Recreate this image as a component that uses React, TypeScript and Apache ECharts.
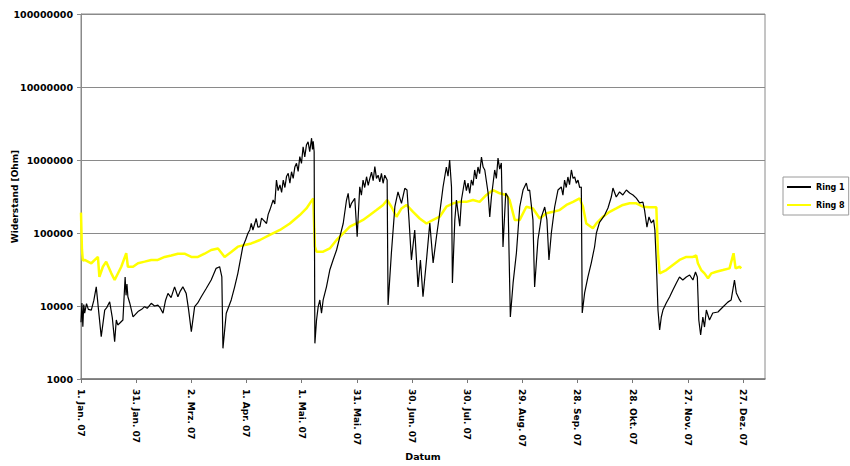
import React, { useEffect, useRef } from "react";
import * as echarts from "echarts";

const tickLabels = [
  "1. Jan. 07", "31. Jan. 07", "2. Mrz. 07", "1. Apr. 07", "1. Mai. 07", "31. Mai. 07",
  "30. Jun. 07", "30. Jul. 07", "29. Aug. 07", "28. Sep. 07", "28. Okt. 07", "27. Nov. 07", "27. Dez. 07",
];

// day offset from 1 Jan 2007
const ring1Days = [
  0, 0.5, 1, 1.5, 2, 3, 4, 5.6, 7, 8.3, 9.5, 11, 12.9, 14, 15.6, 17, 18.3, 19.2, 20, 21, 22.8, 24, 24.5, 25, 25.5, 26.5, 28.3,
  31, 33, 34.6, 36, 38.2, 40, 41.8, 43, 44.6, 46, 47.3, 49, 50.9, 52.7, 54, 55.4, 57.2, 58.5, 60, 61.8, 63.5, 65.4, 68.1,
  70.8, 73.5, 75.4, 76.6, 77.2, 79, 81.7, 83.5, 85.3, 88, 89.5, 90.8, 91.8, 92.6, 93.5, 95.3, 96.2, 97.3, 98.2, 99.1,
  100.9, 101.8, 102.7, 104.5, 105.4, 106.3, 107.2, 108.2, 109.1, 110, 110.9, 111.8, 112.7, 113.6, 114.5, 115.4, 116.3,
  117.2, 118.1, 119, 119.9, 120.8, 121.7, 122.6, 123.5, 124.4, 125.4, 125.9, 126.3, 126.8, 127.2, 128.1, 129, 129.9,
  130.8, 131.7, 133.5, 135.3, 137.1, 139, 140.8, 142.6, 144.4, 145.3, 146.2, 147.1, 148.9, 150.2, 151.6, 152.5, 153.4,
  154.3, 155.3, 156.2, 157.1, 158, 158.9, 159.8, 160.7, 161.6, 162.5, 163.4, 164.3, 165.2, 166.5, 167, 168.8, 170.7,
  172.4, 174.3, 176.1, 177.3, 178.4, 179.7, 181.5, 183.3, 184.6, 186, 187.9, 189.7, 191.5, 193.3, 195.1, 196.9, 198.7,
  199.6, 200.5, 201.5, 202, 203.3, 204.2, 206, 206.9, 208.7, 209.6, 210.5, 211.4, 212.3, 213.2, 214.1, 215, 215.9,
  216.8, 217.8, 218.7, 219.6, 221.4, 222.3, 223.2, 225, 225.9, 226.8, 227.7, 228.6, 229.5, 231, 232.2, 233.5, 235,
  236.8, 238.6, 240.4, 242.2, 243.1, 244, 245.8, 246.7, 248.5, 250.4, 252.2, 253.4, 254.5, 255.8, 257.6, 259.4, 261.2,
  262.1, 263, 263.9, 264.8, 265.7, 266.7, 267.6, 268.5, 269.4, 270.3, 271.2, 272.1, 272.6, 273.9, 275.7, 277.5, 279.3,
  280.3, 282, 284.8, 286.6, 288.4, 289.3, 291.1, 292.9, 294.7, 296.6, 298.4, 300.2, 302, 303.8, 305.6, 306.5, 307.8,
  308.9, 310.2, 311.4, 312.1, 312.9, 313.8, 314.7, 315.6, 316.5, 318.3, 320.1, 321.9, 323.8, 325.5, 327.3, 329.2, 331,
  332.8, 334.2, 335.2, 336, 337, 338.2, 339.1, 340.1, 341.8, 343.6, 346.4, 349.1, 351.8, 353.6, 355.4, 356.4, 358.2, 359.1,
];
const ring1Ohm = [
  6000, 11000, 5200, 10500, 8000, 10800, 9000, 8800, 12000, 18300, 9000, 3800, 8800, 9500, 11400, 7000, 3250, 6430, 5500, 5800, 6430, 25000, 14000, 20000, 13400, 11000, 7100,
  8380, 9000, 9800, 9300, 10900, 10000, 10300, 9500, 7960, 12000, 14900, 13000, 18300, 13400, 16000, 18300, 14900, 9000, 4450, 9800, 11000, 13400, 17400,
  22700, 32800, 34500, 25000, 2630, 7960, 12100, 18000, 28000, 65000, 80000, 99000, 110000, 135000, 110000, 158000, 120000, 122000, 160000, 151000,
  135000, 180000, 206000, 283000, 250000, 532000, 380000, 455000, 360000, 532000, 420000, 600000, 655000, 480000, 690000, 560000, 800000,
  900000, 700000, 1110000, 900000, 1520000, 1100000, 1600000, 1770000, 1300000, 1990000, 1400000, 1800000, 1300000, 3080, 6430, 9800, 12100,
  7960, 12100, 18300, 31100, 42700, 58500, 89000, 135000, 283000, 350000, 220000, 255000, 298000, 89000, 430000, 330000, 532000,
  420000, 590000, 450000, 560000, 680000, 520000, 810000, 560000, 620000, 500000, 655000, 480000, 620000, 532000, 10300, 52800, 229000,
  365000, 255000, 410000, 388000, 151000, 42700, 110000, 18300, 42700, 13400, 42700, 137000, 38800, 88100, 188000, 427000, 802000,
  600000, 1000000, 427000, 20700, 151000, 283000, 124000, 283000, 532000, 380000, 484000, 350000, 532000, 450000, 730000, 550000, 802000,
  650000, 1100000, 800000, 730000, 353000, 166000, 311000, 730000, 560000, 1065000, 750000, 910000, 64300, 353000, 311000, 7070, 20700,
  53200, 227000, 388000, 484000, 380000, 388000, 151000, 18200, 80200, 166000, 227000, 151000, 42700, 100000, 227000, 388000, 427000,
  330000, 532000, 420000, 585000, 460000, 730000, 560000, 585000, 480000, 532000, 420000, 427000, 8020, 15100, 25000, 38800, 64300,
  100000, 140000, 176000, 220000, 311000, 413000, 311000, 365000, 332000, 388000, 353000, 332000, 301000, 258000, 265000, 206000, 120000,
  166000, 137000, 151000, 110000, 38800, 8810, 4690, 7070, 8810, 11000, 13300, 16600, 20700, 25000, 22700, 25000, 26600,
  22700, 29200, 25000, 6430, 4010, 7070, 5150, 8810, 6430, 8020, 8280, 9690, 11300, 12100, 22700, 15100, 12100, 11300,
];

const ring8Days = [
  0, 0.5, 1, 2, 5.6, 9.2, 10, 11.9, 13.7, 16.5, 18.3, 21.9, 24.6, 25.5, 28.3, 31, 34.6, 38.2, 41.8, 45.5, 49.1, 52.7,
  56.3, 60, 63.6, 67.2, 70.8, 74.5, 78.1, 81.7, 85.3, 89, 92.6, 97.3, 102.7, 108.2, 113.6, 119, 122.6, 126.3, 127.2,
  128.1, 131.7, 135.3, 139, 142.6, 146.2, 149.8, 153.4, 157.1, 160.7, 164.3, 166.5, 168.8, 171.6, 174.3, 177, 180.6,
  184.2, 187.9, 191.5, 195.1, 198.7, 202.4, 206, 209.6, 213.2, 216.8, 220.5, 224.1, 227.7, 231.3, 233.1, 235.9, 238.6,
  242.2, 245.8, 249.5, 253.1, 256.7, 260.3, 264, 267.6, 271.2, 273, 274.8, 278.4, 280.3, 283.9, 287.5, 291.1, 294.7,
  298.4, 302, 305.6, 309.2, 312.9, 313.8, 314.7, 318.3, 321.9, 325.5, 329.2, 332.8, 334.6, 335.5, 337.3, 339.1, 341,
  342.8, 345.5, 349.1, 352.7, 354.9, 356, 358.2, 359.1,
];
const ring8Ohm = [
  190000, 60000, 42000, 42700, 38500, 47000, 25000, 34500, 40500, 28000, 22700, 34500, 52800, 34500, 34500, 38500, 40500, 42700, 42700, 47000, 49300, 52000,
  52000, 47000, 47000, 52000, 58500, 61500, 47000, 55000, 65000, 68500, 72000, 80200, 94000, 110000, 135000, 176000, 217000, 298000, 65000,
  55500, 55500, 61500, 80200, 99000, 122000, 135000, 151000, 176000, 206000, 242000, 283000, 229000, 167000, 217000, 242000, 195000,
  158000, 135000, 151000, 167000, 229000, 255000, 267000, 267000, 283000, 267000, 332000, 388000, 350000, 332000, 283000, 151000, 151000,
  229000, 217000, 158000, 187000, 195000, 206000, 242000, 267000, 298000, 229000, 135000, 116000, 135000, 167000, 195000, 217000, 242000,
  255000, 255000, 229000, 225000, 225000, 52800, 28000, 31100, 36500, 42700, 47000, 47000, 49300, 38500, 31100, 28000, 24000,
  28000, 29500, 31100, 32800, 52800, 32800, 34500, 32800,
];

const FONT = "DejaVu Sans";

export default function App() {
  const ref = useRef<HTMLDivElement>(null);
  useEffect(() => {
    document.body.style.margin = "0";
    const chart = echarts.init(ref.current!, undefined, { renderer: "svg" });
    const r1 = ring1Days.map((d, i) => [d, ring1Ohm[i]]);
    const r8 = ring8Days.map((d, i) => [d, ring8Ohm[i]]);
    chart.setOption({
      animation: false,
      backgroundColor: "#ffffff",
      grid: {
        left: 81, right: 85, top: 14, bottom: 87,
        containLabel: false,
        outerBoundsMode: "none",
        show: true, borderColor: "#8a8a8a", borderWidth: 1, backgroundColor: "#ffffff",
      },
      legend: {
        data: ["Ring 1", "Ring 8"],
        orient: "vertical",
        left: 783, top: 177,
        padding: [6, 4, 6, 4],
        itemWidth: 24, itemHeight: 2, itemGap: 10,
        icon: "rect",
        borderColor: "#9a9a9a", borderWidth: 1, backgroundColor: "#ffffff",
        textStyle: { fontFamily: FONT, fontSize: 8, fontWeight: "bold", color: "#000" },
      },
      xAxis: {
        type: "value",
        min: 0, max: 372, interval: 30,
        name: "Datum",
        nameLocation: "middle",
        nameGap: 72,
        nameMoveOverlap: false,
        nameTextStyle: { fontFamily: FONT, fontSize: 9.5, fontWeight: "bold", color: "#000" },
        axisLine: { show: true, lineStyle: { color: "#777", width: 1.5 } },
        axisTick: { show: true, inside: false, length: 4, lineStyle: { color: "#777" } },
        splitLine: { show: false },
        axisLabel: {
          rotate: -90,
          margin: 10,
          showMaxLabel: false,
          fontFamily: FONT, fontSize: 9, fontWeight: "bold", color: "#000",
          formatter: (v: number) => {
            const i = Math.round(v / 30);
            return Math.abs(v - i * 30) < 0.01 && tickLabels[i] ? tickLabels[i] : "";
          },
        },
      },
      yAxis: {
        type: "log",
        logBase: 10,
        min: 1000, max: 100000000,
        name: "Widerstand [Ohm]",
        nameLocation: "middle",
        nameRotate: 90,
        nameGap: 62,
        nameMoveOverlap: false,
        nameTextStyle: { fontFamily: FONT, fontSize: 9, fontWeight: "bold", color: "#000" },
        axisLine: { show: true, lineStyle: { color: "#8a8a8a" } },
        axisTick: { show: true, inside: false, length: 4, lineStyle: { color: "#8a8a8a" } },
        splitLine: { show: true, lineStyle: { color: "#8a8a8a", width: 1 } },
        axisLabel: {
          margin: 8,
          fontFamily: FONT, fontSize: 9.5, fontWeight: "bold", color: "#000",
          formatter: (v: number) => String(Math.round(v)),
        },
      },
      series: [
        {
          name: "Ring 1",
          type: "line",
          data: r1,
          showSymbol: false,
          z: 3,
          color: "#000000",
          lineStyle: { color: "#000000", width: 1.2 },
        },
        {
          name: "Ring 8",
          type: "line",
          data: r8,
          showSymbol: false,
          z: 2,
          color: "#ffff00",
          lineStyle: { color: "#ffff00", width: 2.5 },
        },
      ],
    });
    return () => chart.dispose();
  }, []);
  return <div ref={ref} style={{ width: 850, height: 466 }} />;
}
